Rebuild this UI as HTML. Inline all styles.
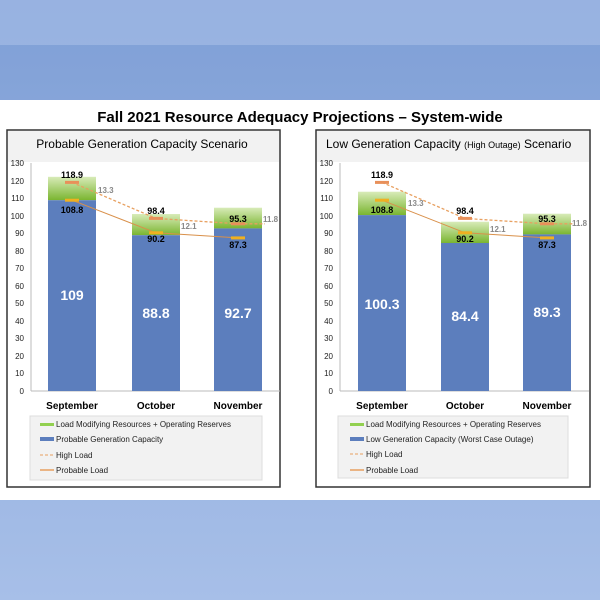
<!DOCTYPE html>
<html><head><style>
body{margin:0;width:600px;height:600px;overflow:hidden;background:#8eaadc;}
svg{display:block;font-family:"Liberation Sans",sans-serif;}
</style></head><body>
<svg width="600" height="600" viewBox="0 0 600 600">
<defs>
<linearGradient id="bg" x1="0" y1="0" x2="0" y2="1"><stop offset="0" stop-color="#7f9fd6"/><stop offset="1" stop-color="#a7bfe8"/></linearGradient>
<linearGradient id="gr" x1="0" y1="0" x2="0" y2="1"><stop offset="0" stop-color="#d8ebb8"/><stop offset="1" stop-color="#7ab530"/></linearGradient>
</defs>
<rect width="600" height="600" fill="url(#bg)"/>
<rect x="0" y="0" width="600" height="45" fill="#a9c0e8" opacity="0.6"/>
<rect x="0" y="100" width="600" height="400" fill="#fff"/>
<text x="300" y="122" font-size="15" font-weight="bold" text-anchor="middle">Fall 2021 Resource Adequacy Projections – System-wide</text>

<!-- LEFT -->
<rect x="7" y="130" width="273" height="357" fill="#fff" stroke="#333" stroke-width="1.5"/>
<rect x="8" y="131" width="271" height="31" fill="#f2f2f2"/>
<text x="142" y="148" font-size="12" text-anchor="middle">Probable Generation Capacity Scenario</text>
<g font-size="8" fill="#222" text-anchor="end">
<text x="24" y="394">0</text><text x="24" y="376">10</text><text x="24" y="359">20</text><text x="24" y="341">30</text><text x="24" y="324">40</text><text x="24" y="306">50</text><text x="24" y="289">60</text><text x="24" y="271">70</text><text x="24" y="254">80</text><text x="24" y="236">90</text><text x="24" y="219">100</text><text x="24" y="201">110</text><text x="24" y="184">120</text><text x="24" y="166">130</text>
</g>
<line x1="31" y1="163" x2="31" y2="391" stroke="#bbb"/><line x1="31" y1="391" x2="280" y2="391" stroke="#bbb"/>
<rect x="48" y="176.8" width="48" height="23.4" fill="url(#gr)"/><rect x="48" y="200.2" width="48" height="190.8" fill="#5c7ebd"/>
<rect x="132" y="214" width="48" height="21.2" fill="url(#gr)"/><rect x="132" y="235.2" width="48" height="155.8" fill="#5c7ebd"/>
<rect x="214" y="207.7" width="48" height="20.7" fill="url(#gr)"/><rect x="214" y="228.4" width="48" height="162.6" fill="#5c7ebd"/>
<polyline points="72,182.4 156,218.4 238,223.8 265,223.8" fill="none" stroke="#e8a060" stroke-width="1.3" stroke-dasharray="3,2"/>
<polyline points="72,200.2 156,232.8 238,237.9" fill="none" stroke="#d9904a" stroke-width="1"/>
<g stroke-width="3"><line x1="65" y1="182.4" x2="79" y2="182.4" stroke="#e8905a"/><line x1="149" y1="218.4" x2="163" y2="218.4" stroke="#e8905a"/><line x1="231" y1="223.8" x2="245" y2="223.8" stroke="#e8905a"/>
<line x1="65" y1="200.2" x2="79" y2="200.2" stroke="#f0b020"/><line x1="149" y1="232.8" x2="163" y2="232.8" stroke="#f0b020"/><line x1="231" y1="237.9" x2="245" y2="237.9" stroke="#f0b020"/></g>
<g font-size="9" font-weight="bold" text-anchor="middle"><text x="72" y="178">118.9</text><text x="72" y="213">108.8</text><text x="156" y="214">98.4</text><text x="156" y="242">90.2</text><text x="238" y="222">95.3</text><text x="238" y="248">87.3</text></g>
<g font-size="8" fill="#888" font-weight="bold"><text x="98" y="193">13.3</text><text x="181" y="229">12.1</text><text x="263" y="222">11.8</text></g>
<g font-size="14" font-weight="bold" fill="#fff" text-anchor="middle"><text x="72" y="300">109</text><text x="156" y="318">88.8</text><text x="238" y="318">92.7</text></g>
<g font-size="10" font-weight="bold" text-anchor="middle"><text x="72" y="409">September</text><text x="156" y="409">October</text><text x="238" y="409">November</text></g>
<rect x="30" y="416" width="232" height="64" fill="#f2f2f2" stroke="#ddd"/>
<rect x="40" y="423" width="14" height="3" fill="#92d050"/><rect x="40" y="437" width="14" height="4" fill="#5c7ebd"/>
<line x1="40" y1="455" x2="54" y2="455" stroke="#e8a060" stroke-dasharray="3,2"/><line x1="40" y1="470" x2="54" y2="470" stroke="#e8a060" stroke-width="1.5"/>
<g font-size="8" fill="#222"><text x="56" y="427">Load Modifying Resources + Operating Reserves</text><text x="56" y="442">Probable Generation Capacity</text><text x="56" y="458">High Load</text><text x="56" y="473">Probable Load</text></g>

<!-- RIGHT -->
<rect x="316" y="130" width="274" height="357" fill="#fff" stroke="#333" stroke-width="1.5"/>
<rect x="317" y="131" width="272" height="31" fill="#f2f2f2"/>
<text x="326" y="148" font-size="12">Low Generation Capacity <tspan font-size="9">(High Outage)</tspan> Scenario</text>
<g font-size="8" fill="#222" text-anchor="end">
<text x="333" y="394">0</text><text x="333" y="376">10</text><text x="333" y="359">20</text><text x="333" y="341">30</text><text x="333" y="324">40</text><text x="333" y="306">50</text><text x="333" y="289">60</text><text x="333" y="271">70</text><text x="333" y="254">80</text><text x="333" y="236">90</text><text x="333" y="219">100</text><text x="333" y="201">110</text><text x="333" y="184">120</text><text x="333" y="166">130</text>
</g>
<line x1="340" y1="163" x2="340" y2="391" stroke="#bbb"/><line x1="340" y1="391" x2="589" y2="391" stroke="#bbb"/>
<rect x="358" y="191.7" width="48" height="23.4" fill="url(#gr)"/><rect x="358" y="215.1" width="48" height="175.9" fill="#5c7ebd"/>
<rect x="441" y="221.7" width="48" height="21.3" fill="url(#gr)"/><rect x="441" y="243" width="48" height="148" fill="#5c7ebd"/>
<rect x="523" y="213.7" width="48" height="20.7" fill="url(#gr)"/><rect x="523" y="234.4" width="48" height="156.6" fill="#5c7ebd"/>
<polyline points="382,182.4 465,218.4 547,223.8 574,223.8" fill="none" stroke="#e8a060" stroke-width="1.3" stroke-dasharray="3,2"/>
<polyline points="382,200.2 465,232.8 547,237.9" fill="none" stroke="#d9904a" stroke-width="1"/>
<g stroke-width="3"><line x1="375" y1="182.4" x2="389" y2="182.4" stroke="#e8905a"/><line x1="458" y1="218.4" x2="472" y2="218.4" stroke="#e8905a"/><line x1="540" y1="223.8" x2="554" y2="223.8" stroke="#e8905a"/>
<line x1="375" y1="200.2" x2="389" y2="200.2" stroke="#f0b020"/><line x1="458" y1="232.8" x2="472" y2="232.8" stroke="#f0b020"/><line x1="540" y1="237.9" x2="554" y2="237.9" stroke="#f0b020"/></g>
<g font-size="9" font-weight="bold" text-anchor="middle"><text x="382" y="178">118.9</text><text x="382" y="213">108.8</text><text x="465" y="214">98.4</text><text x="465" y="242">90.2</text><text x="547" y="222">95.3</text><text x="547" y="248">87.3</text></g>
<g font-size="8" fill="#888" font-weight="bold"><text x="408" y="206">13.3</text><text x="490" y="232">12.1</text><text x="572" y="226">11.8</text></g>
<g font-size="14" font-weight="bold" fill="#fff" text-anchor="middle"><text x="382" y="309">100.3</text><text x="465" y="321">84.4</text><text x="547" y="317">89.3</text></g>
<g font-size="10" font-weight="bold" text-anchor="middle"><text x="382" y="409">September</text><text x="465" y="409">October</text><text x="547" y="409">November</text></g>
<rect x="338" y="416" width="230" height="62" fill="#f2f2f2" stroke="#ddd"/>
<rect x="350" y="423" width="14" height="3" fill="#92d050"/><rect x="350" y="437" width="14" height="4" fill="#5c7ebd"/>
<line x1="350" y1="454" x2="364" y2="454" stroke="#e8a060" stroke-dasharray="3,2"/><line x1="350" y1="470" x2="364" y2="470" stroke="#e8a060" stroke-width="1.5"/>
<g font-size="8" fill="#222"><text x="366" y="427">Load Modifying Resources + Operating Reserves</text><text x="366" y="442">Low Generation Capacity (Worst Case Outage)</text><text x="366" y="457">High Load</text><text x="366" y="473">Probable Load</text></g>
</svg>
</body></html>
